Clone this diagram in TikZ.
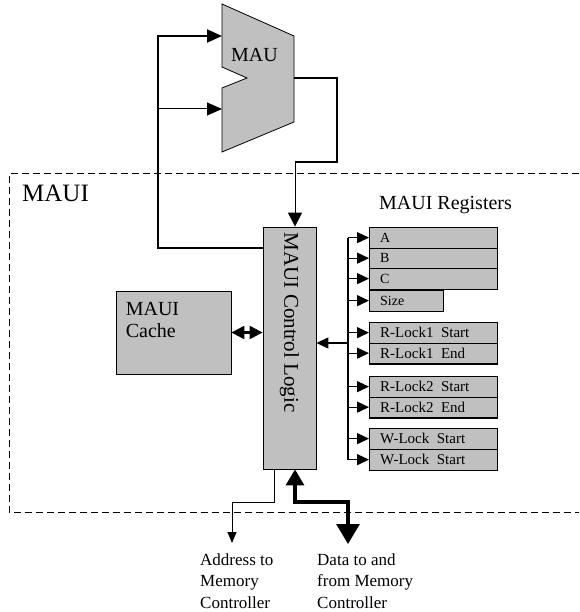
\documentclass[tikz,border=0pt]{standalone}
\usepackage{fontspec}
\setmainfont{Liberation Serif}
\usetikzlibrary{arrows.meta, positioning, calc}
\definecolor{boxgray}{HTML}{C0C0C0}
\newcommand{\mauibig}{\fontsize{25}{28}\selectfont}
\newcommand{\blocktxt}{\fontsize{20}{22}\selectfont}
\newcommand{\ctrltxt}{\fontsize{21}{23}\selectfont}
\newcommand{\labeltxt}{\fontsize{17}{21.5}\selectfont}
\newcommand{\regtitle}{\fontsize{20}{22}\selectfont}
\newcommand{\regsmall}{\fontsize{14}{16}\selectfont}
\newcommand{\reglarge}{\fontsize{15}{17}\selectfont}

\tikzset{
  graybox/.style={draw=black, fill=boxgray, line width=0.8pt, inner sep=0pt},
  regbox/.style={graybox, minimum height=20.5, anchor=north west},
  thinline/.style={draw=black, line width=1pt},
  thickline/.style={draw=black, line width=2.2pt},
  datapath/.style={draw=black, line width=3.2pt},
  busline/.style={draw=black, line width=1.3pt},
  mautip/.style={-{Triangle[length=15pt, width=13pt]}},
  regtip/.style={-{Triangle[length=12pt, width=11pt]}},
  dashline/.style={draw=black, line width=1pt, dash pattern=on 7pt off 4pt},
  plaintext/.style={inner sep=0pt}
}

\begin{document}
\begin{tikzpicture}[x=1pt, y=-1pt]
\useasboundingbox (0,0) rectangle (579,612);

% MAUI outline (open on the right)
\draw[dashline] (579,174) -| (9,512) -- (579,512);
\node[plaintext, font=\mauibig, anchor=base west] (mauilbl) at (22,202) {MAUI};

% MAU
\coordinate (mauin1) at (222,36);
\coordinate (mauin2) at (222,109);
\coordinate (mauout) at (294,78);
\filldraw[fill=boxgray, draw=black, line width=0.8pt]
  (222,4) -- (294,36) -- (294,122) -- (222,152) -- (222,88) -- (247,78) -- (222,67) -- cycle;
\node[plaintext, font=\blocktxt, anchor=base] (maulbl) at (254.5,62) {MAU};

% Control logic
\node[graybox, minimum width=53, minimum height=242] (ctrl) at (289.5,348) {};
\node[plaintext, font=\ctrltxt, rotate=-90, anchor=west] (ctrllbl) at ([yshift=-6]ctrl.north) {MAUI Control Logic};

% Cache
\node[graybox, minimum width=115, minimum height=83] (cache) at (173.5,332.5) {};
\node[plaintext, font=\blocktxt, align=left, anchor=north west] (cachelbl) at ([shift={(10,11)}]cache.north west) {MAUI\\Cache};

% Registers
\node[plaintext, font=\regtitle, anchor=base] (reglbl) at (445.5,209) {MAUI Registers};
\foreach \n/\t/\w/\lbl/\f in {
  rA/227/128/A/\regsmall, rB/247.5/128/B/\regsmall, rC/268/128/C/\regsmall, rS/290/74/Size/\regsmall,
  rRa/322/128/R-Lock1~ Start/\reglarge, rRb/342.5/128/R-Lock1~ End/\reglarge,
  rRc/376/128/R-Lock2~ Start/\reglarge, rRd/396.5/128/R-Lock2~ End/\reglarge,
  rWa/428/128/W-Lock~ Start/\reglarge, rWb/449/128/W-Lock~ Start/\reglarge}{
  \node[regbox, minimum width=\w] (\n) at (369,\t) {};
  \draw[line width=1.6pt] (\n.south west) -- (\n.south east);
  \node[plaintext, font=\f, anchor=west] (\n txt) at ([xshift=11]\n.west) {\lbl};
}

% Register bus
\coordinate (bus) at (348,343);
\draw[busline] (bus |- rA.west) -- (bus |- rWb.west);
\foreach \n in {rA,rB,rC,rS,rRa,rRb,rRc,rRd,rWa,rWb}
  \draw[busline, regtip] (bus |- \n.west) -- (\n.west);
\draw[busline, regtip] (bus) -- (bus -| ctrl.east);

% Feedback into the MAU
\coordinate (fbend) at (158,248);
\draw[thickline, mautip] (fbend -| ctrl.west) -- (fbend) |- (mauin1);
\draw[thinline, mautip] (fbend |- mauin2) -- (mauin2);

% MAU result down to control logic
\coordinate (jog) at (295,162);
\draw[thickline] (mauout) -| (337,162) -- (jog);
\draw[thinline, -{Triangle[length=14pt, width=14pt]}] (jog) -- (jog |- ctrl.north);

% Cache link
\draw[thickline, {Triangle[length=13pt, width=13pt]}-{Triangle[length=13pt, width=13pt]}] (cache.east) -- (cache.east -| ctrl.west);

% Memory controller links
\coordinate (addrturn) at (274,502);
\coordinate (addrend) at (232,543);
\draw[thinline, -{Triangle[length=11pt, width=9pt]}] (addrturn |- ctrl.south) -- (addrturn) -| (addrend);
\coordinate (dataturn) at (295,502);
\coordinate (dataend) at (348,544);
\draw[datapath, {Triangle[length=16pt, width=18pt]}-{Triangle[length=20pt, width=23pt]}] (dataturn |- ctrl.south) -- (dataturn) -| (dataend);

\node[plaintext, font=\labeltxt, align=left, anchor=north west] (addrlbl) at (200,553) {Address to\\Memory\\Controller};
\node[plaintext, font=\labeltxt, align=left, anchor=north west] (datalbl) at (317,553) {Data to and\\from Memory\\Controller};

\end{tikzpicture}
\end{document}
